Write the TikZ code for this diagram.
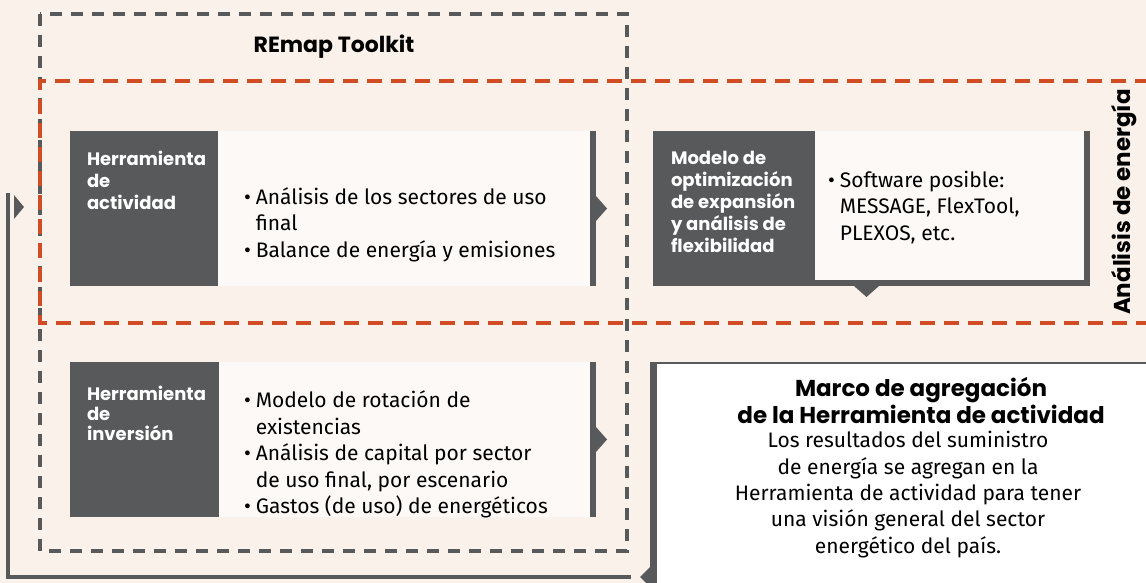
\documentclass[tikz,border=0pt]{standalone}
\usepackage{fontspec}
\setmainfont{Fira Sans}
\newfontfamily\headfont{Poppins}
\usepackage{xcolor}
\usetikzlibrary{positioning,%
  calc%
}

\definecolor{bgcream}{RGB}{250,241,234}
\definecolor{darkgrey}{RGB}{88,89,91}
\definecolor{palebox}{RGB}{253,249,246}
\definecolor{dashorange}{RGB}{208,76,36}

\begin{document}
\begin{tikzpicture}
                    [
                        x=1pt, y=-1pt,
                        every node/.style={inner sep=0pt, outer sep=0pt},
                        darkcol/.style={fill=darkgrey, anchor=north west, minimum height=155pt},
                        palecol/.style={fill=palebox, anchor=north west, minimum height=155pt},
                        sidebar/.style={fill=darkgrey, anchor=north west, minimum width=6pt, minimum height=155pt},
                        headtxt/.style={anchor=west, align=left, text=white, font=\headfont\bfseries\fontsize{18}{22}\selectfont},
                        bullettxt/.style={anchor=west, align=left, font=\fontsize{21}{26.5}\selectfont},
                        greydash/.style={draw=darkgrey, line width=3.2pt, dash pattern=on 12pt off 9pt},
                        orangedash/.style={draw=dashorange, line width=3.2pt, dash pattern=on 15pt off 9pt},
                        fbline/.style={draw=darkgrey, line width=3.2pt},
                        tabfill/.style={fill=darkgrey}
                    ]

                    % Hintergrund
                    \fill[bgcream] (0,0) rectangle (1146,583);
                    \useasboundingbox (0,0) rectangle (1146,583);

                    \draw[greydash] (40,14) rectangle (627,551);
                    \draw[orangedash] (1150,81) -- (40,81) -- (40,323) -- (1150,323);

                    \node[font=\headfont\bfseries\fontsize{22}{26}\selectfont] (toolkit) at (334,47) {REmap Toolkit};
                    \node[rotate=90, font=\headfont\bfseries\fontsize{23}{26}\selectfont] (energyLabel) at (1124,202) {Análisis de energía};

                    % Herramienta de actividad
                    \node[darkcol, minimum width=148pt] (actHead) at (70,131) {};
                    \node[palecol, minimum width=372pt, right=0pt of actHead] (actBody) {};
                    \node[sidebar, right=0pt of actBody] (actBar) {};
                    \fill[tabfill] ($(actBar.east)+(0,-12.5)$) -- ++(11,12.5) -- ++(-11,12.5) -- cycle;
                    \node[headtxt] (actTitle) at (87,180) {Herramienta\\de\\actividad};
                    \node[bullettxt] (actList) at (244,224.5) {\textbullet\hspace{5pt}Análisis de los sectores de uso\\\hphantom{\textbullet\hspace{5pt}}final\\\textbullet\hspace{5pt}Balance de energía y emisiones};

                    % Herramienta de inversion
                    \node[darkcol, minimum width=149pt] (invHead) at (70,362) {};
                    \node[palecol, minimum width=371pt, right=0pt of invHead] (invBody) {};
                    \node[sidebar, right=0pt of invBody] (invBar) {};
                    \fill[tabfill] ($(invBar.east)+(0,-12.5)$) -- ++(11,12.5) -- ++(-11,12.5) -- cycle;
                    \node[headtxt, font=\headfont\bfseries\fontsize{18}{20}\selectfont] (invTitle) at (87,413) {Herramienta\\de\\inversión};
                    \node[bullettxt] (invList) at (244,454.5) {\textbullet\hspace{5pt}Modelo de rotación de\\\hphantom{\textbullet\hspace{5pt}}existencias\\\textbullet\hspace{5pt}Análisis de capital por sector\\\hphantom{\textbullet\hspace{5pt}}de uso final, por escenario\\\textbullet\hspace{5pt}Gastos (de uso) de energéticos};

                    % Modelo
                    \node[darkcol, minimum width=437pt] (modHead) at (653,131) {};
                    \node[palecol, minimum width=269pt, minimum height=149pt, anchor=north east] (modBody) at ($(modHead.north east)+(-6,0)$) {};
                    \fill[tabfill] ($(modHead.south west)+(201,0)$) -- ++(12.5,11) -- ++(12.5,-11) -- cycle;
                    \node[headtxt] (modTitle) at (671,201.5) {Modelo de\\optimización\\de expansión\\y análisis de\\flexibilidad};
                    \node[bullettxt] (modList) at (828,207.5) {\textbullet\hspace{5pt}Software posible:\\\hphantom{\textbullet\hspace{5pt}}MESSAGE, FlexTool,\\\hphantom{\textbullet\hspace{5pt}}PLEXOS, etc.};

                    % Marco de agregacion
                    \node[fill=white, anchor=north west, minimum width=490pt, minimum height=222pt] (marcoBox) at (657,362) {};
                    \node[fill=darkgrey, anchor=north east, minimum width=7pt, minimum height=222pt] (marcoBar) at (marcoBox.north west) {};
                    \draw[darkgrey, line width=2.5pt] ($(marcoBar.north west)+(0,1)$) -- ($(marcoBox.north east)+(0,1)$);
                    \fill[tabfill] ($(marcoBar.south west)+(0,-17)$) -- ++(-10,10) -- ++(10,10) -- cycle;
                    \node[font=\headfont\bfseries\fontsize{23}{27}\selectfont, align=center] (marcoTitle) at (921,400) {Marco de agregación\\de la Herramienta de actividad};
                    \node[font=\fontsize{21}{26.3}\selectfont, align=center] (marcoText) at (908,494.5) {Los resultados del suministro\\de energía se agregan en la\\Herramienta de actividad para tener\\una visión general del sector\\energético del país.};

                    % Rueckfuehrung
                    \coordinate (fbStart) at ($(marcoBar.south west)+(-19,-7)$);
                    \coordinate (fbEnd) at (8,193);
                    \draw[fbline] (fbStart) -| (fbEnd);
                    \fill[tabfill] ($(fbEnd)+(6,2)$) -- ++(10,12) -- ++(-10,12) -- cycle;
                \end{tikzpicture}
\end{document}
